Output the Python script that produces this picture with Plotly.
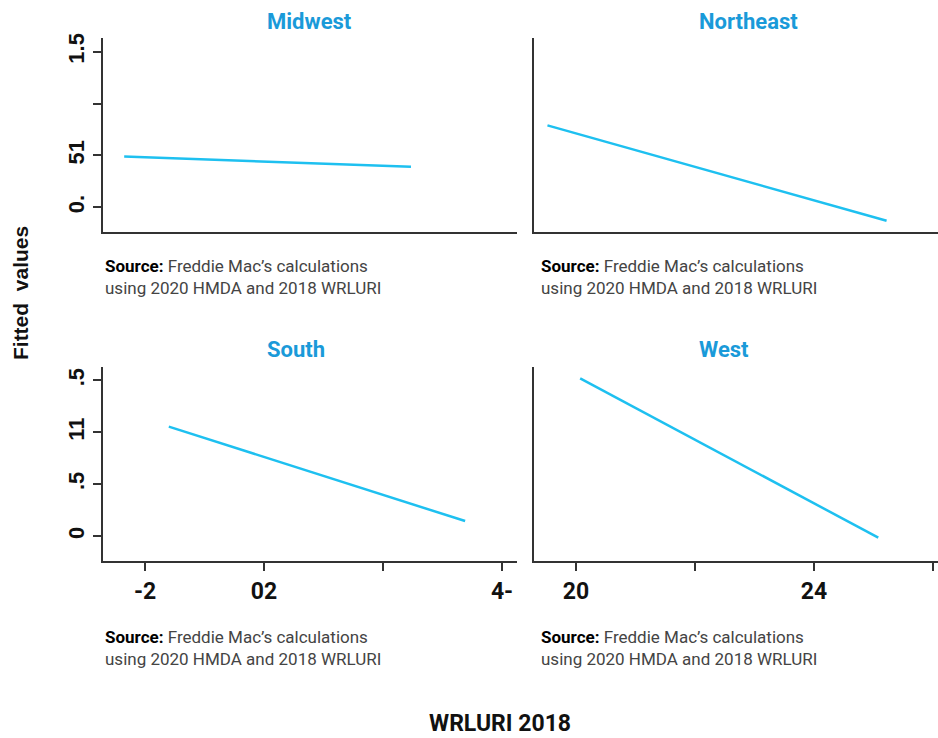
import plotly.graph_objects as go

# ---- data ----
regions = ["Midwest", "Northeast", "South", "West"]
x_start = [-2.35, -2.48, -1.60, -1.93]
x_end = [2.47, 3.22, 3.38, 3.08]
y_start = [0.49, 0.79, 1.055, 1.52]
y_end = [0.39, -0.13, 0.145, -0.015]

y_tickvals = [0, 0.5, 1, 1.5]
y_ticktext_top = ["0.", "51", "", "1.5"]
y_ticktext_bottom = ["0", ".5", "11", ".5"]
x_tickvals = [-2, 0, 2, 4]
x_ticktext_left = ["-2", "02", "", "4-"]
x_ticktext_right = ["20", "", "24", ""]

source_html = ("<b>Source:</b> <span style='color:#444'>Freddie Mac\u2019s calculations</span><br>"
               "<span style='color:#444'>using 2020 HMDA and 2018 WRLURI</span>")

W, H = 938, 738
LINE = "#1ec0f0"
TITLE = "#1a9ad9"
AX = "#333333"

# panel pixel boxes: (left, right, top, bottom)
boxes = [(103, 517, 33, 229), (534, 938, 33, 229), (103, 517, 364, 560), (534, 938, 364, 560)]
title_px = [(265, 17), (697, 17), (265, 347), (697, 347)]
source_px = [(103, 251), (539, 251), (103, 624), (539, 624)]

fig = go.Figure()
layout = {}
for i in range(4):
    n = "" if i == 0 else str(i + 1)
    fig.add_trace(go.Scatter(x=[x_start[i], x_end[i]], y=[y_start[i], y_end[i]],
                             mode="lines", line=dict(color=LINE, width=2.5),
                             xaxis="x" + n, yaxis="y" + n, showlegend=False,
                             hoverinfo="skip"))
    l, r, t, b = boxes[i]
    bottom_row = i >= 2
    left_col = i % 2 == 0
    xa = dict(domain=[l / W, r / W], anchor="y" + n, range=[-2.706, -2.706 + (r - l) / 59.5],
              showgrid=False, zeroline=False, showline=True, linecolor=AX, linewidth=2,
              fixedrange=True)
    if bottom_row:
        xa.update(tickmode="array", tickvals=x_tickvals,
                  ticktext=x_ticktext_left if left_col else x_ticktext_right,
                  ticks="outside", ticklen=8, tickwidth=2, tickcolor=AX,
                  tickfont=dict(family="Roboto", size=23, color="#111", weight="bold"))
    else:
        xa.update(showticklabels=False, ticks="")
    ya = dict(domain=[1 - b / H, 1 - t / H], anchor="x" + n, range=[-0.242, 1.634],
              showgrid=False, zeroline=False, showline=True, linecolor=AX, linewidth=2,
              fixedrange=True)
    if left_col:
        ya.update(tickmode="array", tickvals=y_tickvals,
                  ticktext=y_ticktext_top if not bottom_row else y_ticktext_bottom,
                  ticks="outside", ticklen=8, tickwidth=2, tickcolor=AX, tickangle=-90,
                  tickfont=dict(family="Liberation Sans", size=22, color="#111", weight="bold"))
    else:
        ya.update(showticklabels=False, ticks="")
    layout["xaxis" + n] = xa
    layout["yaxis" + n] = ya

annotations = []
for i in range(4):
    tx, ty = title_px[i]
    annotations.append(dict(text="<b>" + regions[i] + "</b>", x=tx / W, y=1 - ty / H,
                            xref="paper", yref="paper", xanchor="left", yanchor="middle",
                            showarrow=False, font=dict(family="Roboto", size=22, color=TITLE)))
    sx, sy = source_px[i]
    annotations.append(dict(text=source_html, x=sx / W, y=1 - sy / H, xref="paper", yref="paper",
                            xanchor="left", yanchor="top", align="left", showarrow=False,
                            font=dict(family="Roboto", size=17, color="#000")))
annotations.append(dict(text="<b>Fitted  values</b>", x=20 / W, y=1 - 290 / H, xref="paper",
                        yref="paper", xanchor="center", yanchor="middle", textangle=-90,
                        showarrow=False, font=dict(family="Liberation Sans", size=21, color="#111")))
annotations.append(dict(text="<b>WRLURI 2018</b>", x=500 / W, y=1 - 723 / H, xref="paper",
                        yref="paper", xanchor="center", yanchor="middle",
                        showarrow=False, font=dict(family="Roboto", size=23, color="#111")))

fig.update_layout(width=W, height=H, margin=dict(l=0, r=0, t=0, b=0),
                  paper_bgcolor="white", plot_bgcolor="white",
                  annotations=annotations, **layout)
fig.write_html("out.html", config={"displayModeBar": False},
               post_script="document.body.style.margin='0';document.body.style.padding='0';")
